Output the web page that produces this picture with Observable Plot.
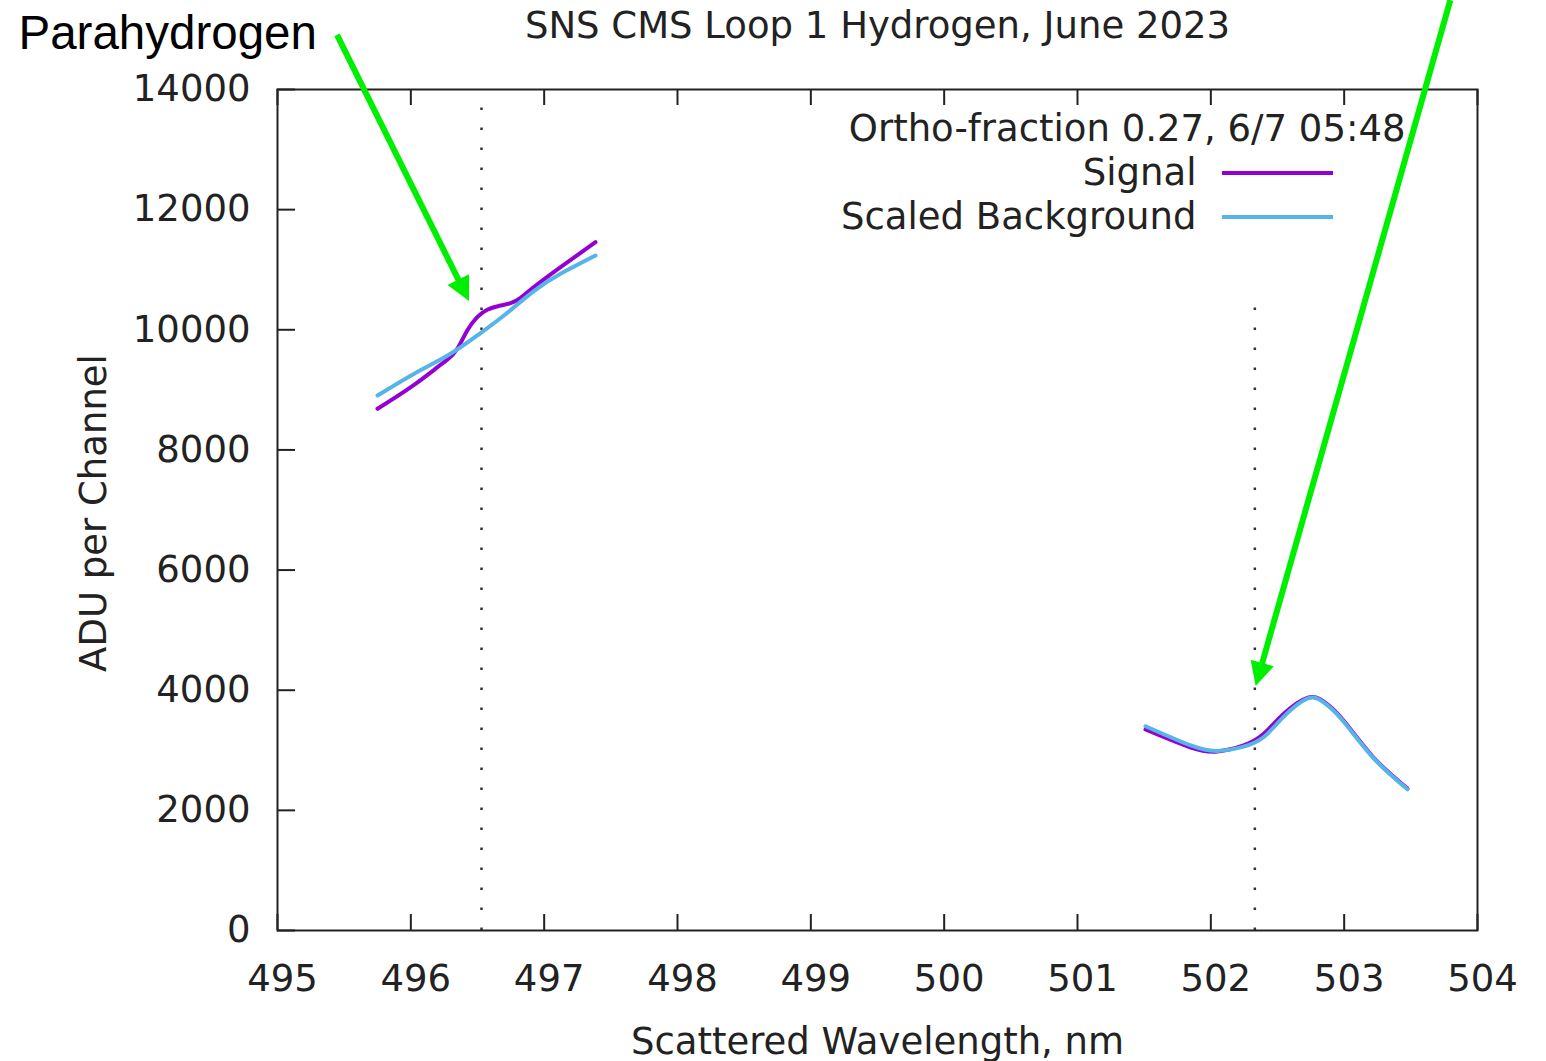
<!DOCTYPE html>
<html>
<head>
<meta charset="utf-8">
<script src="https://cdn.jsdelivr.net/npm/d3@7"></script>
<script src="https://cdn.jsdelivr.net/npm/@observablehq/plot@0.6"></script>
<style>
  html, body { margin: 0; padding: 0; background: #fff; }
  #chart svg { display: block; }
</style>
</head>
<body>
<div id="chart"></div>
<script>
// ---- Data ----
const title = "SNS CMS Loop 1 Hydrogen, June 2023";
const xLabel = "Scattered Wavelength, nm";
const yLabel = "ADU per Channel";
const legendHeader = "Ortho-fraction 0.27, 6/7 05:48";
const seriesNames = ["Signal", "Scaled Background"];
const seriesColors = ["#9400D3", "#56B4E9"];
const xTicks = [495, 496, 497, 498, 499, 500, 501, 502, 503, 504];
const yTicks = [0, 2000, 4000, 6000, 8000, 10000, 12000, 14000];

// Signal, low-wavelength window
const signalWlA = [495.75, 496.0, 496.2, 496.273, 496.348, 496.423, 496.498, 496.573, 496.673, 496.748, 496.823, 496.923, 497.123, 497.385];
const signalA   = [8685, 9045, 9377, 9500, 9683, 9988, 10210, 10333, 10404, 10443, 10532, 10710, 11042, 11459];
// Signal, high-wavelength window
const signalWlB = [501.51, 501.85, 502.05, 502.245, 502.397, 502.547, 502.723, 502.845, 502.995, 503.22, 503.475];
const signalB   = [3346, 3046, 2980, 3080, 3275, 3607, 3874, 3812, 3496, 2880, 2364];
// Scaled background, low-wavelength window
const backWlA = [495.75, 496.023, 496.285, 496.498, 496.698, 496.923, 497.123, 497.385];
const backA   = [8906, 9266, 9583, 9905, 10238, 10643, 10932, 11237];
// Scaled background, high-wavelength window
const backWlB = [501.51, 501.85, 502.05, 502.245, 502.397, 502.547, 502.723, 502.845, 502.995, 503.22, 503.475];
const backB   = [3400, 3080, 2990, 3060, 3220, 3560, 3860, 3800, 3480, 2870, 2350];

// Dotted reference lines (wavelength, top value)
const refLineWl  = [496.53, 502.33];
const refLineTop = [14000, 10420];

// Annotation arrows (data units: start -> tip)
const annotLabel = "Parahydrogen";
const arrowFromWl = [495.45, 503.80];
const arrowFromY  = [14900, 15480];
const arrowToWl   = [496.44, 502.34];
const arrowToY    = [10470, 4060];

// ---- Build tables ----
const lines = [];
signalWlA.forEach((x, i) => lines.push({series: seriesNames[0], seg: "S-A", x, y: signalA[i]}));
signalWlB.forEach((x, i) => lines.push({series: seriesNames[0], seg: "S-B", x, y: signalB[i]}));
backWlA.forEach((x, i) => lines.push({series: seriesNames[1], seg: "B-A", x, y: backA[i]}));
backWlB.forEach((x, i) => lines.push({series: seriesNames[1], seg: "B-B", x, y: backB[i]}));
const refLines = refLineWl.map((x, i) => ({x, y1: 0, y2: refLineTop[i]}));

const W = 1546, H = 1061;
const mL = 277, mR = 69, mT = 89, mB = 131;
const frameH = H - mT - mB, frameW = W - mL - mR;
const FONT = "DejaVu Sans";
const FS = 37;
const INK = "#222";

const chart = Plot.plot({
  width: W,
  height: H,
  marginLeft: mL,
  marginRight: mR,
  marginTop: mT,
  marginBottom: mB,
  style: {fontFamily: FONT, fontSize: FS + "px", color: INK, background: "#fff"},
  x: {domain: [495, 504]},
  y: {domain: [0, 14000]},
  marks: [
    // dotted vertical reference lines
    Plot.ruleX(refLines, {x: "x", y1: "y1", y2: "y2", stroke: "#333", strokeWidth: 2.5, strokeDasharray: "2.5,17.5"}),
    // data
    Plot.line(lines.filter(d => d.series === seriesNames[0]), {x: "x", y: "y", z: "seg", stroke: seriesColors[0], strokeWidth: 4, curve: "natural"}),
    Plot.line(lines.filter(d => d.series === seriesNames[1]), {x: "x", y: "y", z: "seg", stroke: seriesColors[1], strokeWidth: 4, curve: "natural"}),
    // inward ticks
    Plot.tickX(xTicks, {x: d => d, insetTop: frameH - 16, stroke: INK, strokeWidth: 2}),
    Plot.tickX(xTicks, {x: d => d, insetBottom: frameH - 16, stroke: INK, strokeWidth: 2}),
    Plot.tickY(yTicks, {y: d => d, insetRight: frameW - 18, stroke: INK, strokeWidth: 2}),
    // tick labels
    Plot.axisX(xTicks, {anchor: "bottom", tickSize: 0, tickPadding: 34, dx: 5, label: null, fontSize: FS, tickFormat: d => String(d)}),
    Plot.axisY(yTicks, {anchor: "left", tickSize: 0, tickPadding: 27, label: null, fontSize: FS, tickFormat: d => String(d)}),
    Plot.frame({stroke: INK, strokeWidth: 2}),
    // titles
    Plot.text([title], {frameAnchor: "top", dy: -(mT - 37), textAnchor: "middle", lineAnchor: "bottom", fontSize: FS, fill: INK}),
    Plot.text([xLabel], {frameAnchor: "bottom", dy: 1053 - (H - mB), textAnchor: "middle", lineAnchor: "bottom", fontSize: FS, fill: INK}),
    Plot.text([yLabel], {frameAnchor: "left", dx: 105 - mL, dy: 3, rotate: -90, textAnchor: "middle", lineAnchor: "bottom", fontSize: FS, fill: INK}),
    // legend texts
    Plot.text([legendHeader], {frameAnchor: "top-right", dx: 1405 - (W - mR), dy: 129 - mT, textAnchor: "end", lineAnchor: "middle", fontSize: FS, fill: INK}),
    Plot.text([seriesNames[0]], {frameAnchor: "top-right", dx: 1196 - (W - mR), dy: 173 - mT, textAnchor: "end", lineAnchor: "middle", fontSize: FS, fill: INK}),
    Plot.text([seriesNames[1]], {frameAnchor: "top-right", dx: 1196 - (W - mR), dy: 217 - mT, textAnchor: "end", lineAnchor: "middle", fontSize: FS, fill: INK}),
    // annotation label
    Plot.text([annotLabel], {frameAnchor: "top-left", dx: 18 - mL, dy: 48 - mT, textAnchor: "start", lineAnchor: "bottom", fontSize: 47.5, fontFamily: "Liberation Sans", fill: "#000"})
  ]
});

// legend samples and arrows, placed with the plot's scales
const svg = d3.select(chart);
const right = W - mR;
[173, 217].forEach((yy, i) => {
  svg.append("line")
    .attr("x1", right - 255).attr("x2", right - 144)
    .attr("y1", yy).attr("y2", yy)
    .attr("stroke", seriesColors[i]).attr("stroke-width", 4);
});
const sx = chart.scale("x"), sy = chart.scale("y");
const arrowG = svg.append("g");
arrowFromWl.forEach((_, i) => {
  const x0 = sx.apply(arrowFromWl[i]), y0 = sy.apply(arrowFromY[i]);
  const x1 = sx.apply(arrowToWl[i]), y1 = sy.apply(arrowToY[i]);
  const dx = x1 - x0, dy = y1 - y0, L = Math.hypot(dx, dy);
  const ux = dx / L, uy = dy / L, px = -uy, py = ux;
  const headLen = 24, headW = 12;
  const bx = x1 - ux * headLen, by = y1 - uy * headLen;
  arrowG.append("line")
    .attr("x1", x0).attr("y1", y0).attr("x2", bx + ux * 2).attr("y2", by + uy * 2)
    .attr("stroke", "#00ee00").attr("stroke-width", 6);
  arrowG.append("polygon")
    .attr("points", [[x1, y1], [bx + px * headW, by + py * headW], [bx - px * headW, by - py * headW]].map(p => p.join(",")).join(" "))
    .attr("fill", "#00ee00");
});

document.getElementById("chart").appendChild(chart);
</script>
</body>
</html>
